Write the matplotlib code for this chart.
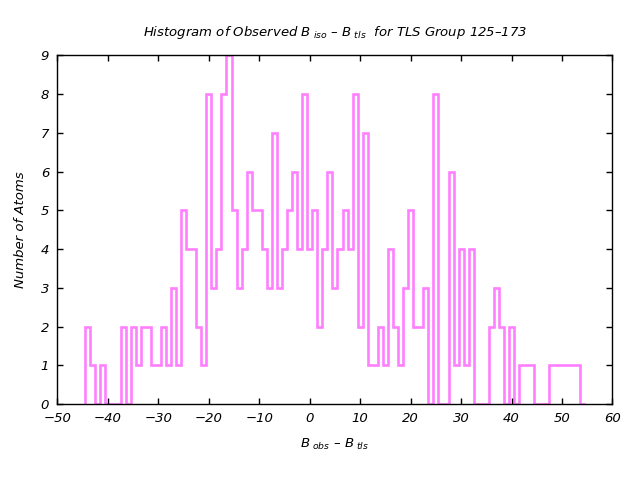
import numpy as np
import matplotlib
matplotlib.use("Agg")
import matplotlib.pyplot as plt

# histogram of B_obs - B_tls, bin width 1, first edge at -44.5
bin_start = -44.5
bin_width = 1.0
counts = [2, 1, 0, 1, 0, 0, 0, 2, 0, 2,
          1, 2, 2, 1, 1, 2, 1, 3, 1, 5,
          4, 4, 2, 1, 8, 3, 4, 8, 9, 5,
          3, 4, 6, 5, 5, 4, 3, 7, 3, 4,
          5, 6, 4, 8, 4, 5, 2, 4, 6, 3,
          4, 5, 4, 8, 2, 7, 1, 1, 2, 1,
          4, 2, 1, 3, 5, 2, 2, 3, 0, 8,
          0, 0, 6, 1, 4, 1, 4, 0, 0, 0,
          2, 3, 2, 0, 2, 0, 1, 1, 1, 0,
          0, 0, 1, 1, 1, 1, 1, 1, 0]
edges = bin_start + bin_width * np.arange(len(counts) + 1)

xticks = np.arange(-50, 61, 10)
yticks = np.arange(0, 10, 1)

plt.rcParams['font.family'] = ['DejaVu Sans']
plt.rcParams['font.style'] = 'italic'
plt.rcParams['mathtext.fontset'] = 'custom'
plt.rcParams['mathtext.rm'] = 'DejaVu Sans:italic'
plt.rcParams['mathtext.it'] = 'DejaVu Sans:italic'

fig = plt.figure(figsize=(6.4, 4.8), dpi=100)
ax = fig.add_axes([0.0898, 0.158, 0.8672, 0.727])

ax.stairs(counts, edges, baseline=0, fill=False, color='#ff80ff', linewidth=1.9)

ax.set_xlim(-50, 60)
ax.set_ylim(0, 9)
ax.set_xticks(xticks)
ax.set_yticks(yticks)
ax.tick_params(direction='in', top=True, right=True, length=4, width=1,
               labelsize=9.5, pad=6)
for s in ax.spines.values():
    s.set_linewidth(1)

ax.set_title(r"Histogram of Observed B$_{\ iso}$ – B$_{\ tls}$  for TLS Group 125–173",
             fontsize=9.5, pad=14)
ax.set_xlabel(r"B$_{\ obs}$ – B$_{\ tls}$", fontsize=9.5, labelpad=8)
ax.set_ylabel("Number of Atoms", fontsize=9.5, labelpad=10)

fig.savefig("out.png", dpi=100)
